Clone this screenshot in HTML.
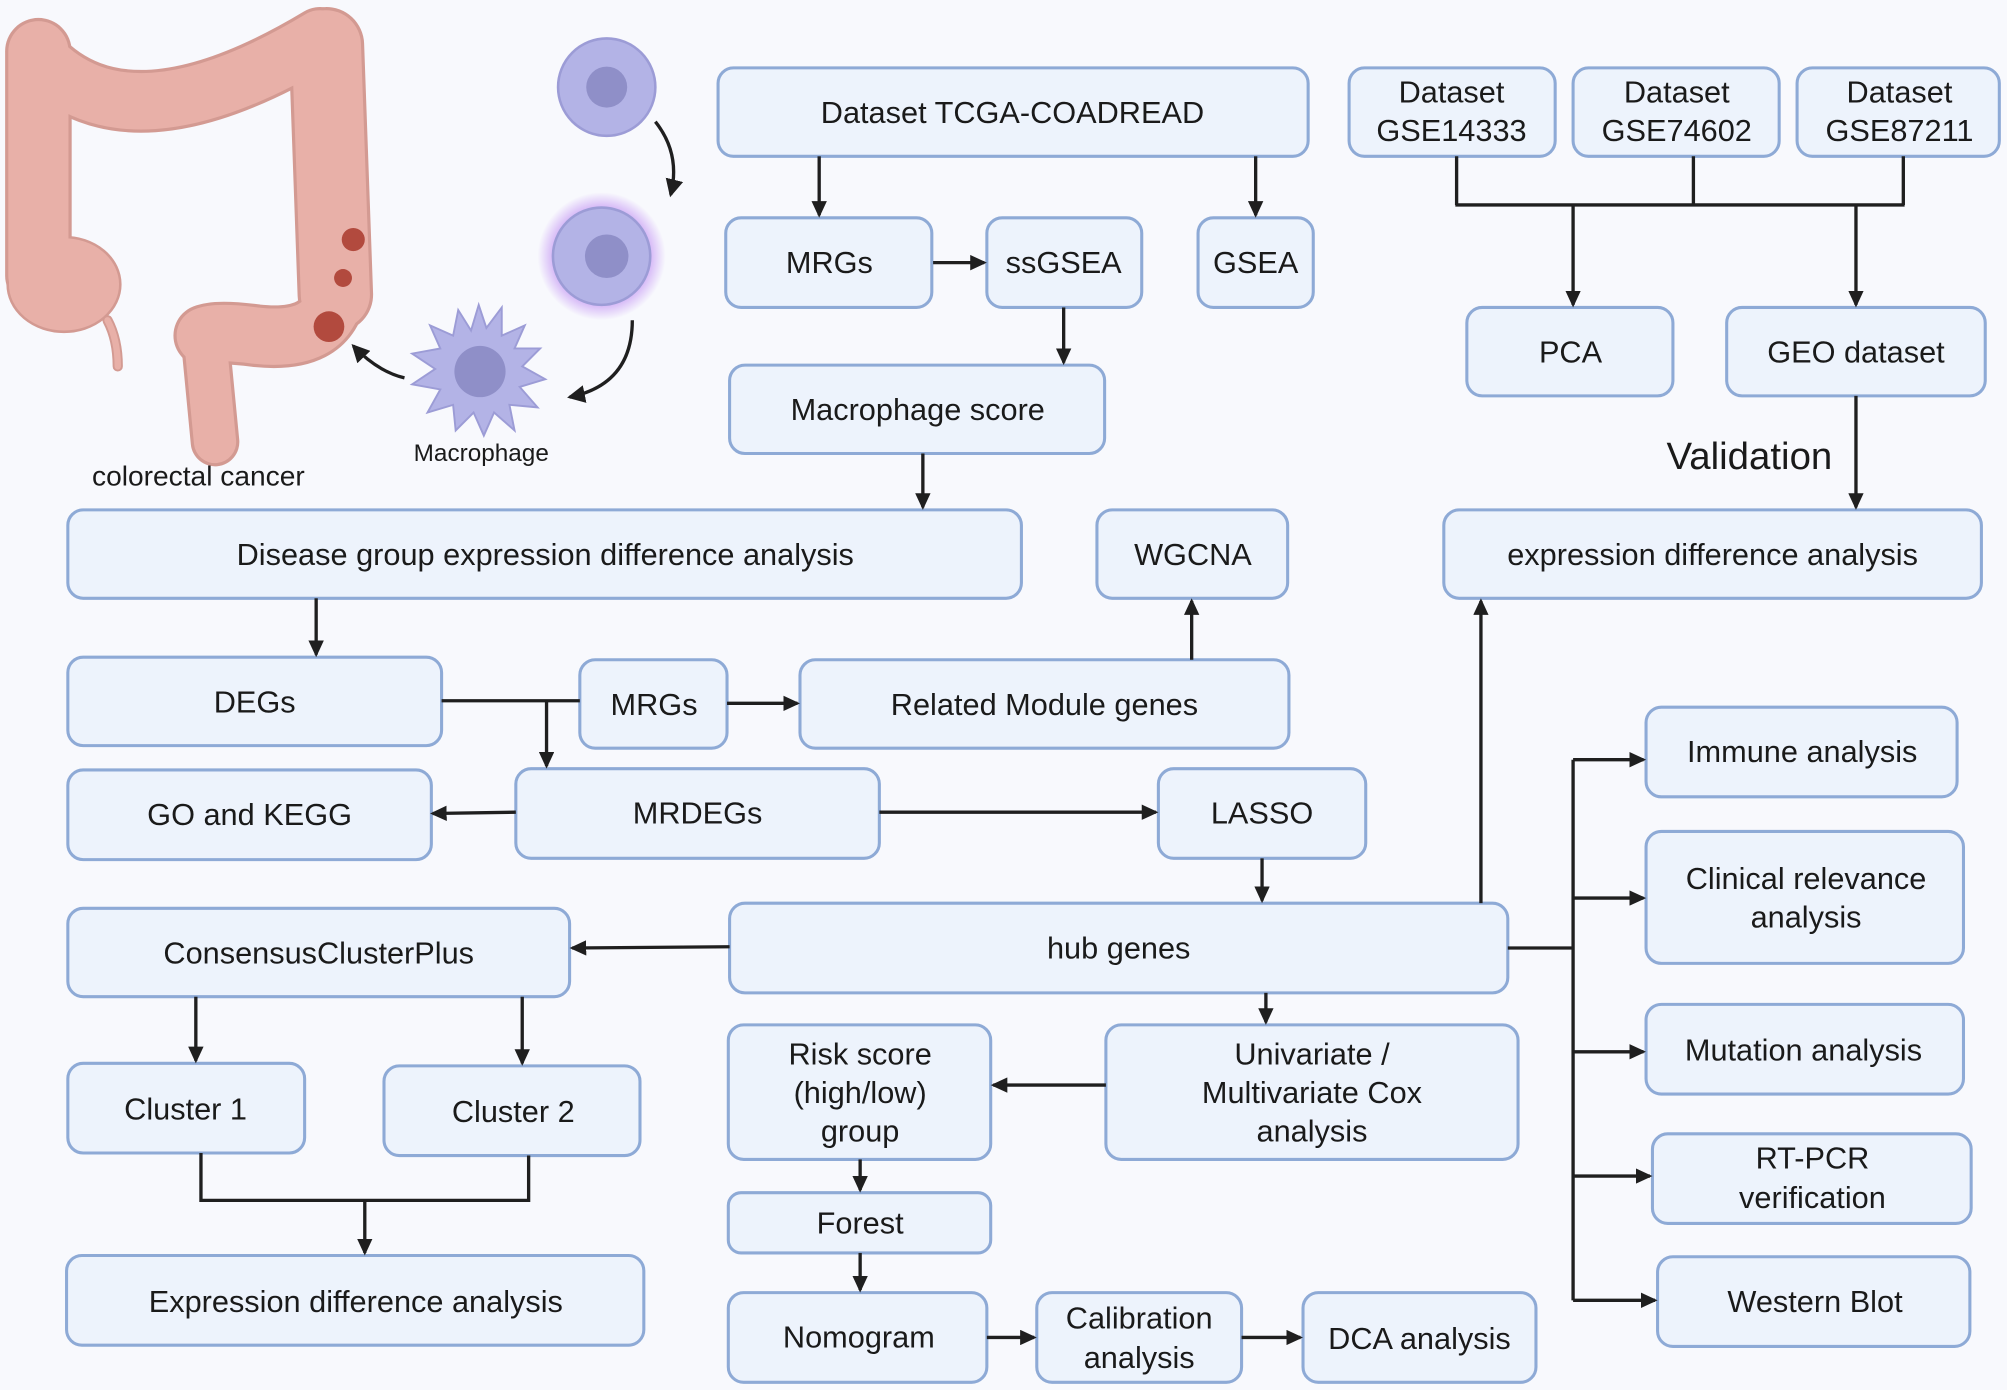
<!DOCTYPE html>
<html><head><meta charset="utf-8"><style>
html,body{margin:0;padding:0;background:#f8f9fd;}
svg{display:block;}
text{font-family:"Liberation Sans",sans-serif;fill:#1a1a1a;}
.b{fill:#edf3fc;stroke:#8eaad6;stroke-width:2.4;}
.l{stroke:#1f1f1f;stroke-width:2.6;fill:none;}
</style></head><body>
<svg width="2007" height="1390" viewBox="0 0 1568 1085" preserveAspectRatio="none" xmlns="http://www.w3.org/2000/svg">
<defs>
<marker id="a" markerWidth="13" markerHeight="12" refX="11" refY="6" orient="auto" markerUnits="userSpaceOnUse" viewBox="0 0 13 12">
<path d="M0,0 L13,6 L0,12 z" fill="#1f1f1f"/></marker>
<marker id="m" markerWidth="14" markerHeight="14" refX="12" refY="7" orient="auto" markerUnits="userSpaceOnUse" viewBox="0 0 14 14">
<path d="M0,0 L14,7 L0,14 z" fill="#1f1f1f"/></marker>
<radialGradient id="g"><stop offset="0.6" stop-color="#b070f0" stop-opacity="0.8"/><stop offset="1" stop-color="#b070f0" stop-opacity="0"/></radialGradient>
</defs>
<rect width="1568" height="1085" fill="#f8f9fd"/>

<!-- colon illustration -->
<g stroke-linecap="round" stroke-linejoin="round" fill="none" stroke="#d39a92">
<path d="M30,40 L30,215" stroke-width="52"/>
<path d="M30,45 Q100,120 250,30" stroke-width="49"/>
<path d="M255,35 L262,230" stroke-width="59"/>
<path d="M262,230 Q255,268 200,262 Q170,258 160,262" stroke-width="49"/>
<path d="M160,262 L168,345" stroke-width="38"/>
<path d="M84,250 Q92,265 92,286" stroke-width="8"/>
</g>
<ellipse cx="50" cy="222" rx="44" ry="37" fill="#e8b0a8" stroke="#d39a92" stroke-width="2"/>
<g stroke-linecap="round" stroke-linejoin="round" fill="none" stroke="#e8b0a8">
<path d="M30,40 L30,215" stroke-width="47"/>
<path d="M30,45 Q100,120 250,30" stroke-width="44"/>
<path d="M255,35 L262,230" stroke-width="54"/>
<path d="M262,230 Q255,268 200,262 Q170,258 160,262" stroke-width="44"/>
<path d="M160,262 L168,345" stroke-width="33"/>
<path d="M84,250 Q92,265 92,286" stroke-width="5"/>
</g>
<circle cx="276" cy="187" r="9" fill="#b24a3e"/>
<circle cx="268" cy="217" r="7" fill="#b24a3e"/>
<circle cx="257" cy="255" r="12" fill="#b24a3e"/>

<circle cx="474" cy="68" r="38" fill="#b3b3e6" stroke="#9c9cd6" stroke-width="2"/>
<circle cx="474" cy="68" r="16" fill="#8f8fc8"/>
<circle cx="470" cy="200" r="50" fill="url(#g)"/>
<circle cx="470" cy="200" r="38" fill="#b3b3e6" stroke="#9c9cd6" stroke-width="2"/>
<circle cx="474" cy="200" r="17" fill="#8f8fc8"/>
<g fill="#b3b3e6" stroke="#9c9cd6" stroke-width="1.5">
<path d="M374,238 L380,256 L392,240 L392,262 L410,254 L402,272 L422,272 L408,286 L426,296 L406,302 L420,318 L398,316 L402,336 L386,322 L378,340 L370,322 L356,336 L354,316 L334,322 L344,304 L322,300 L340,288 L322,276 L344,272 L336,254 L354,262 L358,242 L368,258 Z"/>
</g>
<circle cx="375" cy="290" r="20" fill="#8f8fc8"/>
<path class="l" d="M512,95 Q532,120 524,152" marker-end="url(#m)" stroke-width="2"/>
<path class="l" d="M494,250 Q494,300 445,310" marker-end="url(#m)" stroke-width="2"/>
<path class="l" d="M316,295 Q295,290 276,270" marker-end="url(#m)" stroke-width="2"/>
<text x="376" y="360" font-size="19" text-anchor="middle">Macrophage</text>
<text x="155" y="379" font-size="22" text-anchor="middle">colorectal cancer</text>

<!-- boxes -->
<g font-size="24" text-anchor="middle">
<rect class="b" x="561" y="53" width="461" height="69" rx="12"/><text x="791" y="96">Dataset TCGA-COADREAD</text>
<rect class="b" x="567" y="170" width="161" height="70" rx="12"/><text x="648" y="213">MRGs</text>
<rect class="b" x="771" y="170" width="121" height="70" rx="12"/><text x="831" y="213">ssGSEA</text>
<rect class="b" x="936" y="170" width="90" height="70" rx="12"/><text x="981" y="213">GSEA</text>
<rect class="b" x="1054" y="53" width="161" height="69" rx="12"/><text x="1134" y="80">Dataset</text><text x="1134" y="110">GSE14333</text>
<rect class="b" x="1229" y="53" width="161" height="69" rx="12"/><text x="1310" y="80">Dataset</text><text x="1310" y="110">GSE74602</text>
<rect class="b" x="1404" y="53" width="158" height="69" rx="12"/><text x="1484" y="80">Dataset</text><text x="1484" y="110">GSE87211</text>
<rect class="b" x="1146" y="240" width="161" height="69" rx="12"/><text x="1227" y="283">PCA</text>
<rect class="b" x="1349" y="240" width="202" height="69" rx="12"/><text x="1450" y="283">GEO dataset</text>
<rect class="b" x="570" y="285" width="293" height="69" rx="12"/><text x="717" y="328">Macrophage score</text>
<rect class="b" x="53" y="398" width="745" height="69" rx="12"/><text x="426" y="441">Disease group expression difference analysis</text>
<rect class="b" x="857" y="398" width="149" height="69" rx="12"/><text x="932" y="441">WGCNA</text>
<rect class="b" x="1128" y="398" width="420" height="69" rx="12"/><text x="1338" y="441">expression difference analysis</text>
<rect class="b" x="53" y="513" width="292" height="69" rx="12"/><text x="199" y="556">DEGs</text>
<rect class="b" x="453" y="515" width="115" height="69" rx="12"/><text x="511" y="558">MRGs</text>
<rect class="b" x="625" y="515" width="382" height="69" rx="12"/><text x="816" y="558">Related Module genes</text>
<rect class="b" x="53" y="601" width="284" height="70" rx="12"/><text x="195" y="644">GO and KEGG</text>
<rect class="b" x="403" y="600" width="284" height="70" rx="12"/><text x="545" y="643">MRDEGs</text>
<rect class="b" x="905" y="600" width="162" height="70" rx="12"/><text x="986" y="643">LASSO</text>
<rect class="b" x="53" y="709" width="392" height="69" rx="12"/><text x="249" y="752">ConsensusClusterPlus</text>
<rect class="b" x="570" y="705" width="608" height="70" rx="12"/><text x="874" y="748">hub genes</text>
<rect class="b" x="1286" y="552" width="243" height="70" rx="12"/><text x="1408" y="595">Immune analysis</text>
<rect class="b" x="1286" y="649" width="248" height="103" rx="12"/><text x="1411" y="694">Clinical relevance</text><text x="1411" y="724">analysis</text>
<rect class="b" x="1286" y="784" width="248" height="70" rx="12"/><text x="1409" y="828">Mutation analysis</text>
<rect class="b" x="1291" y="885" width="249" height="70" rx="12"/><text x="1416" y="912">RT-PCR</text><text x="1416" y="943">verification</text>
<rect class="b" x="1295" y="981" width="244" height="70" rx="12"/><text x="1418" y="1024">Western Blot</text>
<rect class="b" x="569" y="800" width="205" height="105" rx="12"/><text x="672" y="831">Risk score</text><text x="672" y="861">(high/low)</text><text x="672" y="891">group</text>
<rect class="b" x="864" y="800" width="322" height="105" rx="12"/><text x="1025" y="831">Univariate /</text><text x="1025" y="861">Multivariate  Cox</text><text x="1025" y="891">analysis</text>
<rect class="b" x="53" y="830" width="185" height="70" rx="12"/><text x="145" y="874">Cluster 1</text>
<rect class="b" x="300" y="832" width="200" height="70" rx="12"/><text x="401" y="876">Cluster 2</text>
<rect class="b" x="569" y="931" width="205" height="47" rx="10"/><text x="672" y="963">Forest</text>
<rect class="b" x="52" y="980" width="451" height="70" rx="12"/><text x="278" y="1024">Expression difference analysis</text>
<rect class="b" x="569" y="1009" width="202" height="70" rx="12"/><text x="671" y="1052">Nomogram</text>
<rect class="b" x="810" y="1009" width="160" height="70" rx="12"/><text x="890" y="1037">Calibration</text><text x="890" y="1068">analysis</text>
<rect class="b" x="1018" y="1009" width="182" height="70" rx="12"/><text x="1109" y="1053">DCA analysis</text>
</g>
<text x="1302" y="366" font-size="30">Validation</text>

<!-- connectors -->
<g class="l">
<line x1="640" y1="122" x2="640" y2="168" marker-end="url(#a)"/>
<line x1="981" y1="122" x2="981" y2="168" marker-end="url(#a)"/>
<line x1="729" y1="205" x2="769" y2="205" marker-end="url(#a)"/>
<line x1="831" y1="240" x2="831" y2="283" marker-end="url(#a)"/>
<path d="M1138,122 V160 M1323,122 V160 M1487,122 V160 M1137,160 H1488"/>
<line x1="1229" y1="160" x2="1229" y2="238" marker-end="url(#a)"/>
<line x1="1450" y1="160" x2="1450" y2="238" marker-end="url(#a)"/>
<line x1="1450" y1="309" x2="1450" y2="396" marker-end="url(#a)"/>
<line x1="721" y1="354" x2="721" y2="396" marker-end="url(#a)"/>
<line x1="247" y1="467" x2="247" y2="511" marker-end="url(#a)"/>
<line x1="931" y1="515" x2="931" y2="469" marker-end="url(#a)"/>
<path d="M345,547 H453"/>
<line x1="427" y1="547" x2="427" y2="598" marker-end="url(#a)"/>
<line x1="568" y1="549" x2="623" y2="549" marker-end="url(#a)"/>
<line x1="403" y1="634" x2="338" y2="635" marker-end="url(#a)"/>
<line x1="687" y1="634" x2="903" y2="634" marker-end="url(#a)"/>
<line x1="986" y1="670" x2="986" y2="703" marker-end="url(#a)"/>
<line x1="570" y1="739" x2="447" y2="740" marker-end="url(#a)"/>
<line x1="1157" y1="705" x2="1157" y2="469" marker-end="url(#a)"/>
<path d="M1178,740 H1229 M1229,593 V1015"/>
<line x1="1229" y1="593" x2="1284" y2="593" marker-end="url(#a)"/>
<line x1="1229" y1="701" x2="1284" y2="701" marker-end="url(#a)"/>
<line x1="1229" y1="821" x2="1284" y2="821" marker-end="url(#a)"/>
<line x1="1229" y1="918" x2="1289" y2="918" marker-end="url(#a)"/>
<line x1="1229" y1="1015" x2="1293" y2="1015" marker-end="url(#a)"/>
<line x1="989" y1="775" x2="989" y2="798" marker-end="url(#a)"/>
<line x1="864" y1="847" x2="776" y2="847" marker-end="url(#a)"/>
<line x1="672" y1="905" x2="672" y2="929" marker-end="url(#a)"/>
<line x1="672" y1="978" x2="672" y2="1007" marker-end="url(#a)"/>
<line x1="771" y1="1044" x2="808" y2="1044" marker-end="url(#a)"/>
<line x1="970" y1="1044" x2="1016" y2="1044" marker-end="url(#a)"/>
<line x1="153" y1="778" x2="153" y2="828" marker-end="url(#a)"/>
<line x1="408" y1="778" x2="408" y2="830" marker-end="url(#a)"/>
<path d="M157,900 V937 H413 V902"/>
<line x1="285" y1="937" x2="285" y2="978" marker-end="url(#a)"/>
</g>
</svg>
</body></html>
